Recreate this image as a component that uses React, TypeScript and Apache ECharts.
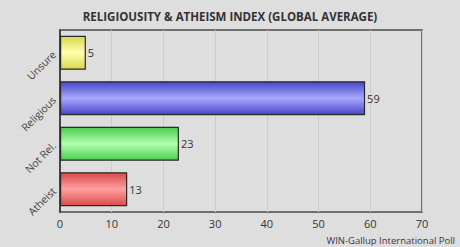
import React, { useEffect, useRef } from "react";
import * as echarts from "echarts";

const categories = ["Atheist", "Not Rel.", "Religious", "Unsure"];
const values = [13, 23, 59, 5];
const xTicks = [0, 10, 20, 30, 40, 50, 60, 70];
const barEdgeColors = ["#d84a4a", "#4ccc4c", "#4646c8", "#d8d84c"];
const barMidColors = ["#ffa0a0", "#b0ffb0", "#a8a8ff", "#ffffb0"];

export default function App() {
  const ref = useRef<HTMLDivElement>(null);
  useEffect(() => {
    const chart = echarts.init(ref.current!, null, { renderer: "svg" });
    const grad = (i: number) =>
      new echarts.graphic.LinearGradient(0, 0, 0, 1, [
        { offset: 0, color: barEdgeColors[i] },
        { offset: 0.5, color: barMidColors[i] },
        { offset: 1, color: barEdgeColors[i] },
      ]);
    chart.setOption({
      animation: false,
      backgroundColor: "#dedede",
      textStyle: { fontFamily: "Open Sans" },
      title: [
        {
          text: "RELIGIOUSITY & ATHEISM INDEX (GLOBAL AVERAGE)",
          left: "center",
          top: 5,
          textStyle: { fontSize: 11.5, fontWeight: "bold", color: "#333", fontFamily: "Open Sans" },
        },
        {
          text: "WIN-Gallup International Poll",
          right: 5,
          bottom: 0,
          padding: [0, 0, 1, 0],
          textStyle: { fontSize: 9.5, fontWeight: "normal", color: "#443344", fontFamily: "Open Sans", lineHeight: 12 },
        },
      ],
      grid: {
        left: 60,
        right: 38,
        top: 30,
        bottom: 35,
        show: true,
        borderColor: "#707070",
        borderWidth: 2,
        containLabel: false,
      },
      xAxis: {
        type: "value",
        min: xTicks[0],
        max: xTicks[xTicks.length - 1],
        interval: 10,
        axisLine: { show: false },
        axisTick: { show: false },
        axisLabel: { color: "#333", fontSize: 11, margin: 6 },
        splitLine: { show: true, lineStyle: { color: "#cccccc", width: 1 } },
      },
      yAxis: {
        type: "category",
        data: categories,
        axisLine: { show: true, lineStyle: { color: "#444", width: 2 } },
        axisTick: { show: false },
        axisLabel: { color: "#444", fontSize: 10.5, rotate: 45, margin: 6 },
      },
      series: [
        {
          type: "bar",
          barWidth: 34,
          data: values.map((v, i) => ({
            value: v,
            itemStyle: { color: grad(i), borderColor: "#2a2a2a", borderWidth: 1.2 },
          })),
          label: { show: true, position: "right", distance: 2, color: "#333", fontSize: 11 },
        },
      ],
    });
    return () => chart.dispose();
  }, []);
  return <div ref={ref} style={{ width: 460, height: 247, position: "absolute", left: 0, top: 0 }} />;
}
